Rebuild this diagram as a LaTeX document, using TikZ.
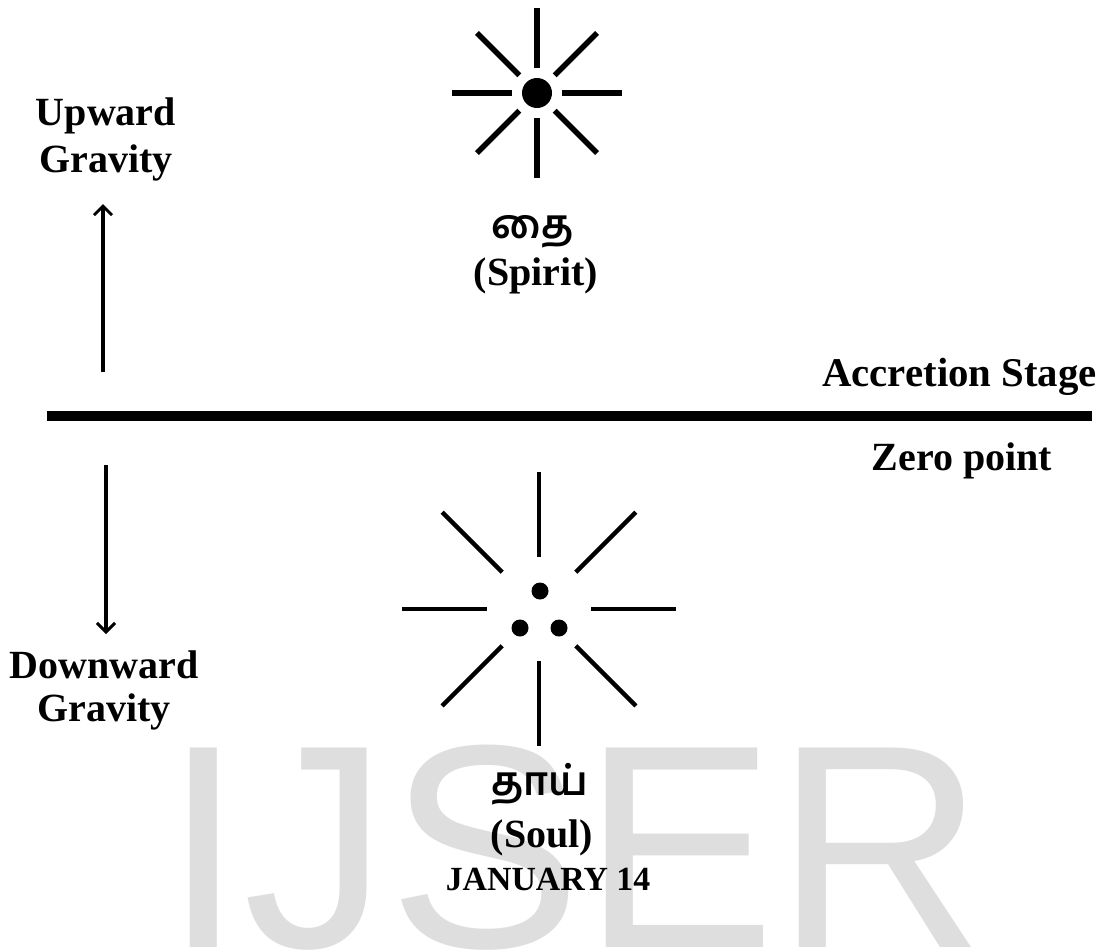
\documentclass[tikz,border=0pt]{standalone}
\usepackage{fontspec}
\setmainfont{Liberation Serif}
\newfontfamily\tamilfont[Script=Tamil]{Hind Madurai}
\newfontfamily\wmfont{Liberation Sans}
\usetikzlibrary{arrows.meta,calc}
\definecolor{wmgray}{HTML}{DEDEDE}
\tikzset{
  lbl/.style={anchor=base, inner sep=0pt, font=\fontsize{40}{40}\selectfont\bfseries},
  datelbl/.style={anchor=base, inner sep=0pt, font=\fontsize{33.8}{34}\selectfont\bfseries},
  tam/.style={anchor=base, inner sep=0pt, font=\fontsize{40}{40}\selectfont\tamilfont\bfseries},
  ray/.style={line width=5.5pt, line cap=butt},
  rayb/.style={line width=4.5pt, line cap=butt},
  grav/.style={line width=3.5pt, -{Straight Barb[length=9pt,width=18pt,line width=3pt]}},
}
\begin{document}
\begin{tikzpicture}[x=1pt,y=-1pt]
\useasboundingbox (0,0) rectangle (1106,951);
\fill[white] (0,0) rectangle (1106,951);
% watermark
\node[anchor=base west, inner sep=0pt, text=wmgray, font=\fontsize{290}{290}\selectfont\wmfont] (wm) at (163,947) {IJSER};

% top star (Spirit)
\coordinate (s1) at (537,93);
\fill (s1) circle (15);
\foreach \a in {0,45,...,315}{
  \draw[ray] ($(s1)+(\a:25)$) -- ($(s1)+(\a:85)$);
}
% bottom star (Soul)
\coordinate (s2) at (539,609);
\foreach \a in {0,45,...,315}{
  \draw[rayb] ($(s2)+(\a:52)$) -- ($(s2)+(\a:137)$);
}
\fill (540,591) circle (8.5);
\fill (520,628) circle (8.5);
\fill (559,628) circle (8.5);

% zero line
\coordinate (zl) at (47,416);
\coordinate (zr) at (1092,416);
\draw[line width=10pt] (zl) -- (zr);

% arrows
\coordinate (ua0) at (103,372);
\coordinate (ua1) at (103,204);
\draw[grav] (ua0) -- (ua1);
\coordinate (da0) at (106,465);
\coordinate (da1) at (106,634);
\draw[grav] (da0) -- (da1);

% labels
\node[lbl] (up1) at (106,125) {Upward};
\node[lbl] (up2) at (106,172) {Gravity};
\node[lbl] (dn1) at (104,678) {Downward};
\node[lbl] (dn2) at (104,721) {Gravity};
\node[tam] (thai) at (533,238) {தை};
\node[lbl] (spirit) at (536,285) {(Spirit)};
\node[lbl, anchor=base east, font=\fontsize{40.8}{41}\selectfont\bfseries] (acc) at (1097,386) {Accretion Stage};
\node[lbl] (zero) at (962,470) {Zero point};
\node[tam] (thaay) at (540,795) {தாய்};
\node[lbl] (soul) at (542,847) {(Soul)};
\node[datelbl] (jan) at (548,890) {JANUARY 14};
\end{tikzpicture}
\end{document}
